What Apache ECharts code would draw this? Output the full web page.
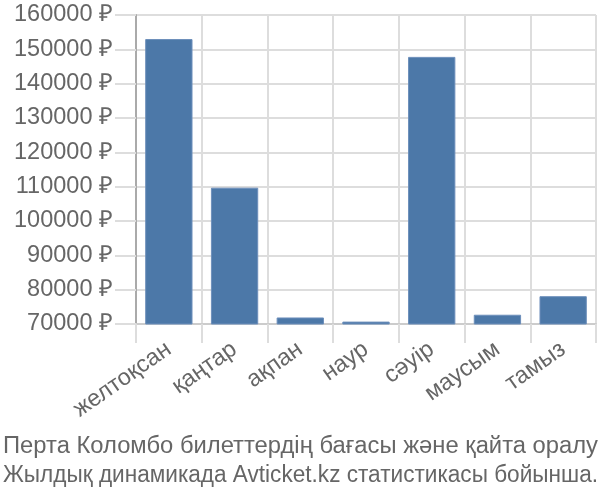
<!DOCTYPE html>
<html><head><meta charset="utf-8">
<script src="https://cdn.jsdelivr.net/npm/echarts@6/dist/echarts.min.js"></script>
<style>html,body{margin:0;padding:0;background:#fff}#c{width:600px;height:500px}</style>
</head><body><div id="c"></div>
<script>
const categories = ['желтоқсан','қаңтар','ақпан','наур','сәуір','маусым','тамыз'];
const prices = [153000, 109700, 71900, 70700, 147800, 72700, 78100];
const yTicks = [70000, 160000, 10000];
const titleLines = ['Перта Коломбо билеттердің бағасы және қайта оралу','Жылдық динамикада Avticket.kz статистикасы бойынша.'];

const chart = echarts.init(document.getElementById('c'));

function fitLine(text, y) {
  const ctx = document.createElement('canvas').getContext('2d');
  ctx.font = '23.5px "Liberation Sans"';
  const w = ctx.measureText(text).width;
  return {
    type: 'text', x: 3, y: y, scaleX: 595 / w, scaleY: 1,
    style: {text: text, fontSize: 23.5, fontFamily: 'Liberation Sans', fill: '#666', verticalAlign: 'middle', align: 'left'}
  };
}

chart.setOption({
  animation: false,
  textStyle: {fontFamily: 'Liberation Sans'},
  graphic: titleLines.map((t, i) => fitLine(t, 446.5 + i * 29)),
  grid: {left: 136, right: 4, top: 15, bottom: 176, containLabel: false},
  xAxis: {
    type: 'category', data: categories,
    axisLine: {show: true, lineStyle: {color: '#ccc', width: 2}},
    axisTick: {show: true, length: 19, interval: 0, lineStyle: {color: '#ddd', width: 2}},
    splitLine: {show: true, interval: 0, lineStyle: {color: '#ddd', width: 2}},
    axisLabel: {rotate: 35, interval: 0, fontSize: 23.5, color: '#666', margin: 23}
  },
  yAxis: {
    type: 'value', min: yTicks[0], max: yTicks[1], interval: yTicks[2],
    axisLine: {show: true, lineStyle: {color: '#aaa', width: 2}},
    axisTick: {show: true, length: 21, lineStyle: {color: '#ddd', width: 2}},
    splitLine: {show: true, lineStyle: {color: '#ddd', width: 2}},
    axisLabel: {fontSize: 23.5, color: '#666', margin: 23, formatter: v => v + ' ₽'}
  },
  series: [{
    type: 'bar', data: prices, barCategoryGap: '28%',
    itemStyle: {color: '#4c78a8', borderColor: '#6d8fbb', borderWidth: 1}
  }]
});
</script></body></html>
